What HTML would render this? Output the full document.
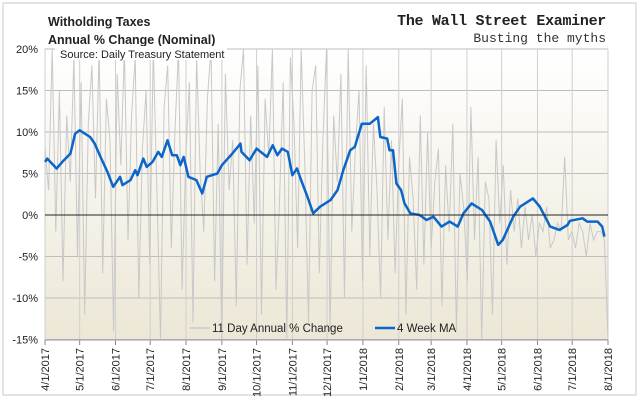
<!DOCTYPE html>
<html><head><meta charset="utf-8"><style>
body{margin:0;background:#fff;width:640px;height:407px;overflow:hidden;font-family:"Liberation Sans",sans-serif}
svg text{font-family:"Liberation Sans",sans-serif}
</style></head><body>
<svg id="chart" width="640" height="407" xmlns="http://www.w3.org/2000/svg">
<defs><linearGradient id="bg" x1="0" y1="0" x2="0" y2="1"><stop offset="0" stop-color="#ffffff"/><stop offset="1" stop-color="#ece7d6"/></linearGradient></defs>
<rect x="3" y="3" width="633" height="392" fill="#fff" stroke="#c8c8c8"/>
<rect x="45" y="49" width="563" height="291" fill="url(#bg)"/>
<g id="grid"></g><g id="noise"></g><g id="ma"></g><g id="axes"></g>
<text x="48" y="26" font-size="12.5" font-weight="bold" fill="#222">Witholding Taxes</text>
<text x="48" y="44" font-size="12.5" font-weight="bold" fill="#222">Annual % Change (Nominal)</text>
<text x="606" y="25" font-size="15" font-weight="bold" text-anchor="end" fill="#222" letter-spacing="-0.3" style="font-family:'Liberation Mono',monospace">The Wall Street Examiner</text>
<text x="606" y="42" font-size="13" text-anchor="end" fill="#333" style="font-family:'Liberation Mono',monospace">Busting the myths</text>
<rect x="55" y="46" width="172" height="14" fill="#fff"/>
<text x="60" y="58" font-size="11" fill="#222">Source: Daily Treasury Statement</text>
<g>
<line x1="190" y1="328" x2="210" y2="328" stroke="#c8c8c8" stroke-width="1.5"/>
<text x="212" y="332" font-size="11.5" fill="#222">11 Day Annual % Change</text>
<line x1="375" y1="328" x2="395" y2="328" stroke="#0a66c8" stroke-width="2.5"/>
<text x="397" y="332" font-size="11.5" fill="#222">4 Week MA</text>
</g>
</svg>
<script>
const monthLabels=["4/1/2017","5/1/2017","6/1/2017","7/1/2017","8/1/2017","9/1/2017","10/1/2017","11/1/2017","12/1/2017","1/1/2018","2/1/2018","3/1/2018","4/1/2018","5/1/2018","6/1/2018","7/1/2018","8/1/2018"];
const monthDays=[0,30,61,91,122,153,183,214,244,275,306,334,365,395,426,456,487];
const yTicks=[20,15,10,5,0,-5,-10,-15];
const maDays=[0,2,10,15,22,26,30,39,43,48,54,59,65,67,74,78,80,85,88,93,98,101,106,110,114,117,120,124,131,136,140,149,153,162,169,170,177,183,192,197,201,205,210,214,218,221,227,232,238,247,253,258,264,268,274,281,288,290,296,298,301,304,308,311,316,324,330,336,343,350,357,362,369,378,385,392,396,405,411,422,428,437,445,452,454,465,469,478,482,484];
const maValues=[6.4,6.8,5.6,6.4,7.4,9.8,10.2,9.4,8.6,7,5.2,3.4,4.6,3.6,4.2,5.4,4.8,6.8,5.8,6.4,7.6,7,9,7.2,7.2,6,7,4.6,4.2,2.6,4.6,5,6,7.4,8.6,7.6,6.6,8,7,8.4,7.2,8,7.6,4.8,5.6,4.4,2.2,0.2,1,1.8,3,5.4,7.8,8.2,11,11,11.8,9.4,9.2,7.8,7.8,3.8,3,1.4,0.2,0,-0.6,-0.2,-1.4,-0.8,-1.4,0.2,1.4,0.6,-0.8,-3.6,-3,-0.2,1,2,1,-1.4,-1.8,-1.2,-0.7,-0.4,-0.8,-0.8,-1.4,-2.6];
const noiseValues=[8,3,20,-2,15,-8,12,4,19,-5,16,-12,11,18,2,20,-7,14,9,-14,17,6,20,-3,12,19,-10,8,15,-6,20,3,-15,13,18,-4,10,20,-9,7,16,-13,19,5,-2,14,20,-8,11,-15,17,3,9,-11,15,20,-6,12,-1,18,-12,14,7,20,-9,2,16,-15,19,11,-4,20,6,-13,15,18,-7,9,20,-14,12,4,17,-10,20,-2,8,15,-8,18,-5,11,3,-10,13,-3,9,-7,6,14,-12,7,2,-9,12,-6,10,-4,4,8,-11,6,-2,11,-14,5,1,-8,13,-3,7,-15,4,2,-12,9,-1,6,-6,3,-2,2,-4,1,-3,0,-5,-1,-2,1,-4,-3,-1,-2,7,-3,-2,-4,-1,-2,-5,-1,-3,-2,-2,-3,-15];
const X0=45,X1=608,Y0=215,PX=(X1-X0)/487,PY=166/20;
const xs=d=>X0+d*PX, ys=v=>Y0-v*PY;
const NS="http://www.w3.org/2000/svg";
function mk(tag,attrs,parent){const e=document.createElementNS(NS,tag);for(const k in attrs)e.setAttribute(k,attrs[k]);parent.appendChild(e);return e;}
const grid=document.getElementById('grid'),axes=document.getElementById('axes');
yTicks.forEach(t=>{
  const l=mk('line',{x1:X0,x2:X1,y1:ys(t),y2:ys(t),stroke:t===0?'#222':'#bdbdbd','stroke-width':1},t===0?axes:grid);
  
  
  const tx=mk('text',{x:38,y:ys(t)+4,'font-size':11,'text-anchor':'end',fill:'#222'},axes);
  tx.textContent=t+'%';
  
  
});
monthDays.forEach((d,i)=>{
  const g=mk('line',{x1:xs(d),x2:xs(d),y1:49,y2:340,stroke:'#cfcfcf','stroke-width':1},grid);
  
  
  const tk=mk('line',{x1:xs(d),x2:xs(d),y1:340,y2:345,stroke:'#888'},axes);
  
  
  const tx=mk('text',{x:0,y:0,'font-size':11,'text-anchor':'end',fill:'#222',transform:`translate(${xs(d)+4},348) rotate(-90)`},axes);
  tx.textContent=monthLabels[i];
  
  
});
const ax=mk('line',{x1:X0,x2:X1,y1:340,y2:340,stroke:'#999'},axes);


const step=487/(noiseValues.length-1);
const np=noiseValues.map((v,i)=>xs(i*step).toFixed(1)+','+ys(Math.max(-15,Math.min(20,v))).toFixed(1)).join(' ');
const nl=mk('polyline',{points:np,fill:'none',stroke:'#c8c8c8','stroke-width':1},document.getElementById('noise'));


const mp=maDays.map((d,i)=>xs(d).toFixed(1)+','+ys(maValues[i]).toFixed(1)).join(' ');
const ml=mk('polyline',{points:mp,fill:'none',stroke:'#0a66c8','stroke-width':2.5,'stroke-linejoin':'round'},document.getElementById('ma'));


</script>
</body></html>
